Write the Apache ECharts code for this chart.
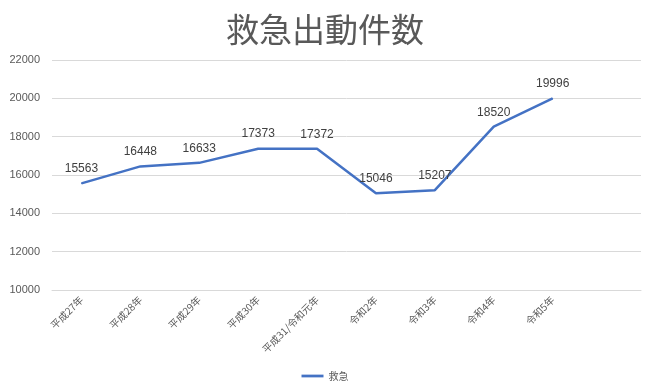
<!DOCTYPE html>
<html><head><meta charset="utf-8">
<script src="https://cdn.jsdelivr.net/npm/echarts@6/dist/echarts.min.js"></script>
<style>html,body{margin:0;padding:0;background:#fff}#c{width:650px;height:388px}</style>
</head><body><div id="c"></div>
<script>
const categories = ['平成27年','平成28年','平成29年','平成30年','平成31/令和元年','令和2年','令和3年','令和4年','令和5年',''];
const values = [15563,16448,16633,17373,17372,15046,15207,18520,19996,null];
const seriesName = '救急';
const chart = echarts.init(document.getElementById('c'));
chart.setOption({
  animation:false,
  title:{text:'救急出動件数',left:'center',top:8,textStyle:{fontSize:33,fontWeight:'normal',color:'#595959',fontFamily:'Noto Sans CJK JP'}},
  legend:{bottom:2,left:'center',icon:'path://M0,0H20V2.5H0Z',itemWidth:22,itemHeight:3,itemStyle:{color:'#4472C4',opacity:1},textStyle:{fontSize:10,color:'#595959',fontFamily:'Noto Sans CJK JP'},data:[seriesName]},
  grid:{left:52,right:9,top:60,bottom:98},
  xAxis:{type:'category',data:categories,boundaryGap:true,
    axisLine:{lineStyle:{color:'#d9d9d9'}},axisTick:{show:false},
    axisLabel:{rotate:45,fontSize:10,color:'#595959',interval:0,fontFamily:'Noto Sans CJK JP',margin:8}},
  yAxis:{type:'value',min:10000,max:22000,interval:2000,
    axisLine:{show:false},axisTick:{show:false},
    splitLine:{lineStyle:{color:'#d9d9d9'}},
    axisLabel:{fontSize:11,color:'#595959',margin:12,fontFamily:'Liberation Sans',formatter:v=>String(v)}},
  series:[{name:seriesName,type:'line',data:values,symbol:'circle',symbolSize:1,showSymbol:true,
    lineStyle:{color:'#4472C4',width:2.5},itemStyle:{color:'#4472C4'},
    label:{show:true,position:'top',distance:8,fontSize:12,color:'#404040',fontFamily:'Liberation Sans'}}]
});
</script></body></html>
